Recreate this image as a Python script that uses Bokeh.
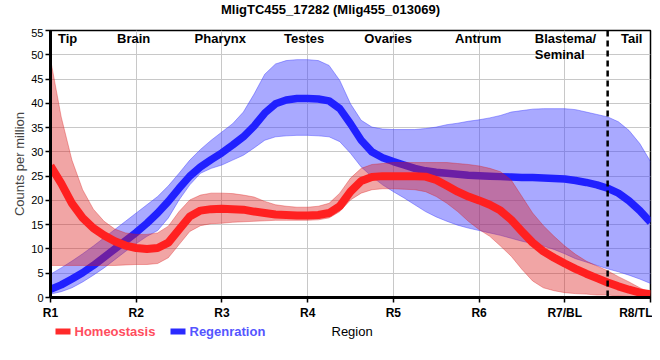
from bokeh.plotting import figure
from bokeh.layouts import column
from bokeh.models import FixedTicker, Span, Range1d
from bokeh.core.properties import value
from bokeh.embed import file_html
from bokeh.resources import INLINE

FONT = "Liberation Sans"

# ---- data (every 1/8 of a region) ----
positions = [1, 1.125, 1.25, 1.375, 1.5, 1.625, 1.75, 1.875,
             2, 2.125, 2.25, 2.375, 2.5, 2.625, 2.75, 2.875,
             3, 3.125, 3.25, 3.375, 3.5, 3.625, 3.75, 3.875,
             4, 4.125, 4.25, 4.375, 4.5, 4.625, 4.75, 4.875,
             5, 5.125, 5.25, 5.375, 5.5, 5.625, 5.75, 5.875,
             6, 6.125, 6.25, 6.375, 6.5, 6.625, 6.75, 6.875,
             7, 7.125, 7.25, 7.375, 7.5, 7.625, 7.75, 7.875, 8]

homeo_mid = [27.1, 23.5, 19.4, 16.4, 14.3, 12.8, 11.6, 10.7,
             10.2, 10.0, 10.2, 11.3, 14.0, 16.7, 17.9, 18.2,
             18.3, 18.2, 18.1, 17.7, 17.4, 17.1, 17.0, 16.9,
             16.9, 17.0, 17.4, 18.8, 21.8, 24.0, 24.8, 25.0,
             25.0, 25.0, 25.0, 24.9, 24.2, 23.0, 21.8, 20.8,
             20.0, 19.1, 17.9, 16.0, 13.6, 11.3, 9.5, 8.2,
             7.0, 5.9, 4.9, 4.0, 3.1, 2.3, 1.6, 1.0, 0.7]
homeo_hi = [49.1, 37.2, 28.3, 22.2, 18.2, 15.7, 14.1, 13.3,
            13.0, 13.0, 13.3, 14.7, 17.7, 20.1, 21.1, 21.5,
            21.5, 21.4, 21.1, 20.7, 19.8, 19.1, 18.8, 18.6,
            18.6, 18.8, 19.4, 21.5, 24.6, 26.6, 27.4, 27.6,
            27.8, 27.8, 27.8, 27.8, 27.8, 27.8, 27.6, 27.4,
            27.1, 26.6, 25.9, 24.2, 20.8, 17.4, 14.8, 12.6,
            10.6, 8.9, 7.5, 6.5, 5.5, 4.3, 3.2, 2.0, 1.0]
homeo_lo = [6.6, 6.6, 6.6, 6.6, 6.6, 6.6, 6.6, 6.7,
            6.8, 6.8, 7.0, 8.2, 10.9, 13.6, 14.8, 15.2,
            15.3, 15.5, 15.6, 15.7, 15.8, 15.9, 15.9, 15.9,
            15.9, 16.0, 16.4, 17.7, 20.1, 21.5, 22.2, 22.4,
            22.4, 22.3, 22.2, 21.8, 20.8, 19.4, 17.7, 15.7,
            14.0, 12.6, 10.6, 8.5, 5.8, 3.4, 2.0, 1.4,
            1.0, 0.8, 0.7, 0.5, 0.5, 0.3, 0.2, 0.1, 0.0]

regen_mid = [1.7, 2.6, 3.8, 5.1, 6.6, 8.3, 10.0, 11.7,
             13.4, 15.3, 17.4, 19.8, 22.5, 25.0, 26.9, 28.4,
             29.8, 31.4, 33.1, 35.3, 38.0, 39.9, 40.7, 41.0,
             41.0, 40.9, 40.5, 38.9, 35.8, 32.4, 30.0, 28.8,
             28.0, 27.3, 26.6, 26.1, 25.8, 25.6, 25.4, 25.2,
             25.1, 25.0, 24.9, 24.8, 24.7, 24.7, 24.6, 24.5,
             24.4, 24.1, 23.7, 23.2, 22.5, 21.5, 19.9, 17.9, 15.5]
regen_hi = [4.8, 6.1, 7.5, 9.0, 10.6, 12.3, 14.0, 15.7,
            17.4, 19.1, 20.8, 23.0, 25.6, 28.3, 30.5, 32.4,
            34.1, 35.8, 38.2, 41.9, 46.0, 48.1, 48.8, 49.0,
            49.0, 48.8, 47.8, 44.7, 39.9, 36.5, 35.1, 34.7,
            34.6, 34.6, 34.6, 34.8, 35.1, 35.6, 35.9, 36.3,
            36.6, 37.0, 37.5, 38.2, 38.5, 38.8, 38.9, 38.9,
            38.9, 38.7, 38.2, 37.7, 37.2, 36.2, 34.4, 31.7, 28.0]
regen_lo = [0.7, 1.2, 2.0, 3.2, 4.6, 6.1, 7.8, 9.5,
            11.1, 12.6, 13.8, 16.4, 20.1, 23.2, 25.6, 26.6,
            27.3, 28.3, 29.3, 30.8, 32.4, 33.1, 33.3, 33.4,
            33.4, 33.3, 33.1, 32.1, 29.7, 26.9, 24.9, 23.2,
            21.8, 20.5, 19.1, 17.7, 16.6, 15.7, 14.9, 14.3,
            13.8, 13.3, 12.8, 12.2, 11.6, 11.1, 10.6, 9.9,
            9.0, 8.0, 7.3, 6.6, 5.9, 5.3, 4.6, 3.8, 2.9]

tick_positions = [1, 2, 3, 4, 5, 6, 7, 8]
tick_labels = ["R1", "R2", "R3", "R4", "R5", "R6", "R7/BL", "R8/TL"]
y_ticks = [0, 5, 10, 15, 20, 25, 30, 35, 40, 45, 50, 55]

region_names = ["Tip", "Brain", "Pharynx", "Testes", "Ovaries", "Antrum", "Tail"]
region_pos = [1.2, 1.97, 2.98, 3.96, 4.94, 5.99, 7.78]
blastema_lines = ["Blastema/", "Seminal"]
tail_boundary = 7.5

chart_title = "MligTC455_17282 (Mlig455_013069)"
series_names = ["Homeostasis", "Regenration"]
series_colors = ["#ff2a2a", "#2a2aff"]
legend_text_colors = ["#ff4d5e", "#5555ff"]
x_title = "Region"

W = 652
FRAME_L, FRAME_R = 50, 650   # frame edges in page pixels (all figures share them)


def strip(height):
    f = figure(width=W, height=height, x_range=Range1d(FRAME_L, FRAME_R),
               y_range=Range1d(0, height), output_backend="svg", toolbar_location=None,
               x_axis_type=None, y_axis_type=None,
               min_border=0, min_border_left=0, min_border_right=0,
               min_border_top=0, min_border_bottom=0)
    f.outline_line_color = None
    f.xgrid.visible = False
    f.ygrid.visible = False
    return f


# ---- title strip ----
TH = 28
head = strip(TH)
head.text(x=[330], y=[TH - 9], text=[chart_title], text_font=value(FONT),
          text_font_style="bold", text_font_size="13px", text_color="black",
          text_align="center", text_baseline="middle")

# ---- main chart ----
p = figure(width=W, height=294, x_range=Range1d(1, 8), y_range=Range1d(0, 55),
           output_backend="svg", toolbar_location=None,
           min_border_left=50, min_border_right=2, min_border_top=2, min_border_bottom=23)

p.outline_line_color = "black"
p.outline_line_width = 1.5
p.outline_line_alpha = 1

p.xaxis.ticker = FixedTicker(ticks=tick_positions)
p.xaxis.major_label_overrides = dict(zip(tick_positions, tick_labels))
p.yaxis.ticker = FixedTicker(ticks=y_ticks)
for ax in (p.xaxis[0], p.yaxis[0]):
    ax.axis_line_color = "black"
    ax.axis_line_width = 3
    ax.major_tick_line_color = "black"
    ax.major_tick_line_width = 1.5
    ax.major_tick_out = 5
    ax.major_tick_in = 0
    ax.minor_tick_out = 0
    ax.minor_tick_in = 0
    ax.major_label_text_font = FONT
    ax.major_label_text_color = "black"
    ax.axis_label_text_font = FONT
p.xaxis.major_label_text_font_size = "12px"
p.xaxis.major_label_text_font_style = "bold"
p.xaxis.major_label_standoff = 3
p.yaxis.major_label_text_font_size = "11px"
p.yaxis.major_label_standoff = 2
p.yaxis.axis_label = "Counts per million"
p.yaxis.axis_label_text_font_size = "13px"
p.yaxis.axis_label_text_font_style = "normal"
p.yaxis.axis_label_standoff = 1

p.xgrid.ticker = FixedTicker(ticks=tick_positions)
p.ygrid.ticker = FixedTicker(ticks=y_ticks)
p.xgrid.grid_line_color = "#c8c8c8"
p.ygrid.grid_line_color = "#c8c8c8"

# regeneration band + line
p.varea(x=positions, y1=regen_lo, y2=regen_hi, fill_color="#4040ff", fill_alpha=0.45)
p.line(positions, regen_hi, line_color="#4040ff", line_alpha=0.45, line_width=1)
p.line(positions, regen_lo, line_color="#4040ff", line_alpha=0.45, line_width=1)
p.line(positions, regen_mid, line_color="#2020ff", line_width=7.5, line_join="round")

# homeostasis band + line
p.varea(x=positions, y1=homeo_lo, y2=homeo_hi, fill_color="#dc1e1e", fill_alpha=0.4)
p.line(positions, homeo_hi, line_color="#dc1e1e", line_alpha=0.35, line_width=1)
p.line(positions, homeo_lo, line_color="#dc1e1e", line_alpha=0.35, line_width=1)
p.line(positions, homeo_mid, line_color="#ff2020", line_width=8, line_join="round")

p.add_layout(Span(location=tail_boundary, dimension="height", line_color="black",
                  line_dash="6 4", line_width=2.5))

p.text(x=region_pos, y=[54.8] * len(region_pos), text=region_names,
       text_font=value(FONT), text_font_style="bold", text_font_size="13px",
       text_align="center", text_baseline="top", text_color="black")
p.text(x=[6.65, 6.65], y=[54.8, 51.7], text=blastema_lines,
       text_font=value(FONT), text_font_style="bold", text_font_size="13px",
       text_align="left", text_baseline="top", text_color="black")

# ---- legend strip ----
LH = 22
leg = strip(LH)
sw_left = [55, 170]
leg.quad(left=sw_left, right=[v + 15 for v in sw_left], bottom=[10, 10], top=[16, 16],
         fill_color=series_colors, line_color=None)
leg.text(x=[v + 19 for v in sw_left], y=[13.5, 13.5], text=series_names,
         text_font=value(FONT), text_font_style="bold", text_font_size="13px",
         text_color=legend_text_colors, text_baseline="middle", text_align="left")
leg.text(x=[331], y=[13], text=[x_title],
         text_font=value(FONT), text_font_size="13px",
         text_color="black", text_baseline="middle", text_align="left")

layout = column(head, p, leg, spacing=0)

open("out.html", "w").write(file_html(layout, INLINE))
